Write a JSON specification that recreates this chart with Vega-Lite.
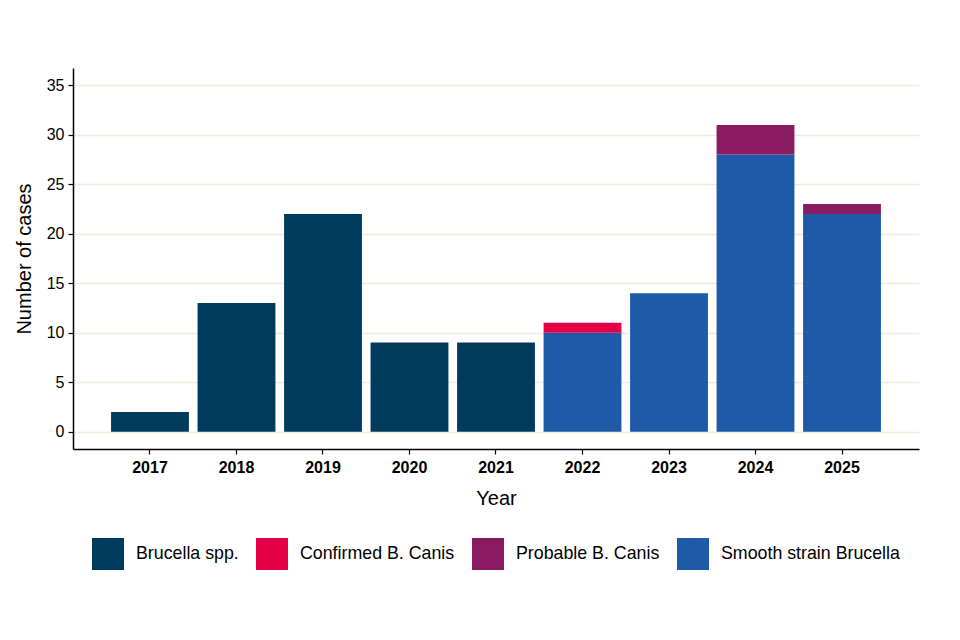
{
  "$schema": "https://vega.github.io/schema/vega-lite/v6.json",
  "width": 846,
  "height": 381,
  "autosize": {"type": "none"},
  "padding": {"left": 73, "top": 68, "right": 41, "bottom": 191},
  "background": "white",
  "config": {
    "font": "Liberation Sans",
    "view": {"stroke": null},
    "axis": {
      "domainColor": "black",
      "domainWidth": 1.5,
      "tickColor": "black",
      "tickWidth": 1.2,
      "tickSize": 5,
      "labelColor": "black",
      "titleColor": "black",
      "labelFont": "Liberation Sans",
      "titleFont": "Liberation Sans",
      "titleFontWeight": "normal"
    },
    "legend": {
      "layout": {"bottom": {"anchor": "middle"}}
    }
  },
  "data": {
    "values": [
      {"year": "2017", "category": "Brucella spp.", "cases": 2},
      {"year": "2018", "category": "Brucella spp.", "cases": 13},
      {"year": "2019", "category": "Brucella spp.", "cases": 22},
      {"year": "2020", "category": "Brucella spp.", "cases": 9},
      {"year": "2021", "category": "Brucella spp.", "cases": 9},
      {"year": "2022", "category": "Smooth strain Brucella", "cases": 10},
      {"year": "2022", "category": "Confirmed B. Canis", "cases": 1},
      {"year": "2023", "category": "Smooth strain Brucella", "cases": 14},
      {"year": "2024", "category": "Smooth strain Brucella", "cases": 28},
      {"year": "2024", "category": "Probable B. Canis", "cases": 3},
      {"year": "2025", "category": "Smooth strain Brucella", "cases": 22},
      {"year": "2025", "category": "Probable B. Canis", "cases": 1}
    ]
  },
  "mark": {"type": "bar"},
  "encoding": {
    "x": {
      "field": "year",
      "type": "ordinal",
      "title": "Year",
      "scale": {"paddingInner": 0.1, "paddingOuter": 0.44},
      "axis": {
        "labelAngle": 0,
        "labelFontSize": 16,
        "labelFontWeight": "bold",
        "labelPadding": 5,
        "titleFontSize": 20,
        "titlePadding": 13,
        "grid": false
      }
    },
    "y": {
      "field": "cases",
      "type": "quantitative",
      "title": "Number of cases",
      "stack": "zero",
      "scale": {"domain": [-1.75, 36.75], "nice": false, "zero": false},
      "axis": {
        "values": [0, 5, 10, 15, 20, 25, 30, 35],
        "labelFontSize": 16,
        "titleFontSize": 20,
        "titlePadding": 12,
        "grid": true,
        "gridColor": "#ebebe0",
        "gridWidth": 1.5,
        "labelPadding": 4
      }
    },
    "color": {
      "field": "category",
      "type": "nominal",
      "title": null,
      "scale": {
        "domain": ["Brucella spp.", "Confirmed B. Canis", "Probable B. Canis", "Smooth strain Brucella"],
        "range": ["#003a5d", "#e40046", "#8a1b61", "#1e5aa8"]
      },
      "legend": {
        "orient": "bottom",
        "direction": "horizontal",
        "columns": 4,
        "symbolType": "square",
        "symbolSize": 1024,
        "symbolStrokeWidth": 0,
        "symbolOpacity": 1,
        "labelFontSize": 17.8,
        "labelLimit": 400,
        "labelColor": "black",
        "labelOffset": 12,
        "columnPadding": 17,
        "offset": 30
      }
    },
    "order": {"field": "category", "sort": "descending"}
  }
}
